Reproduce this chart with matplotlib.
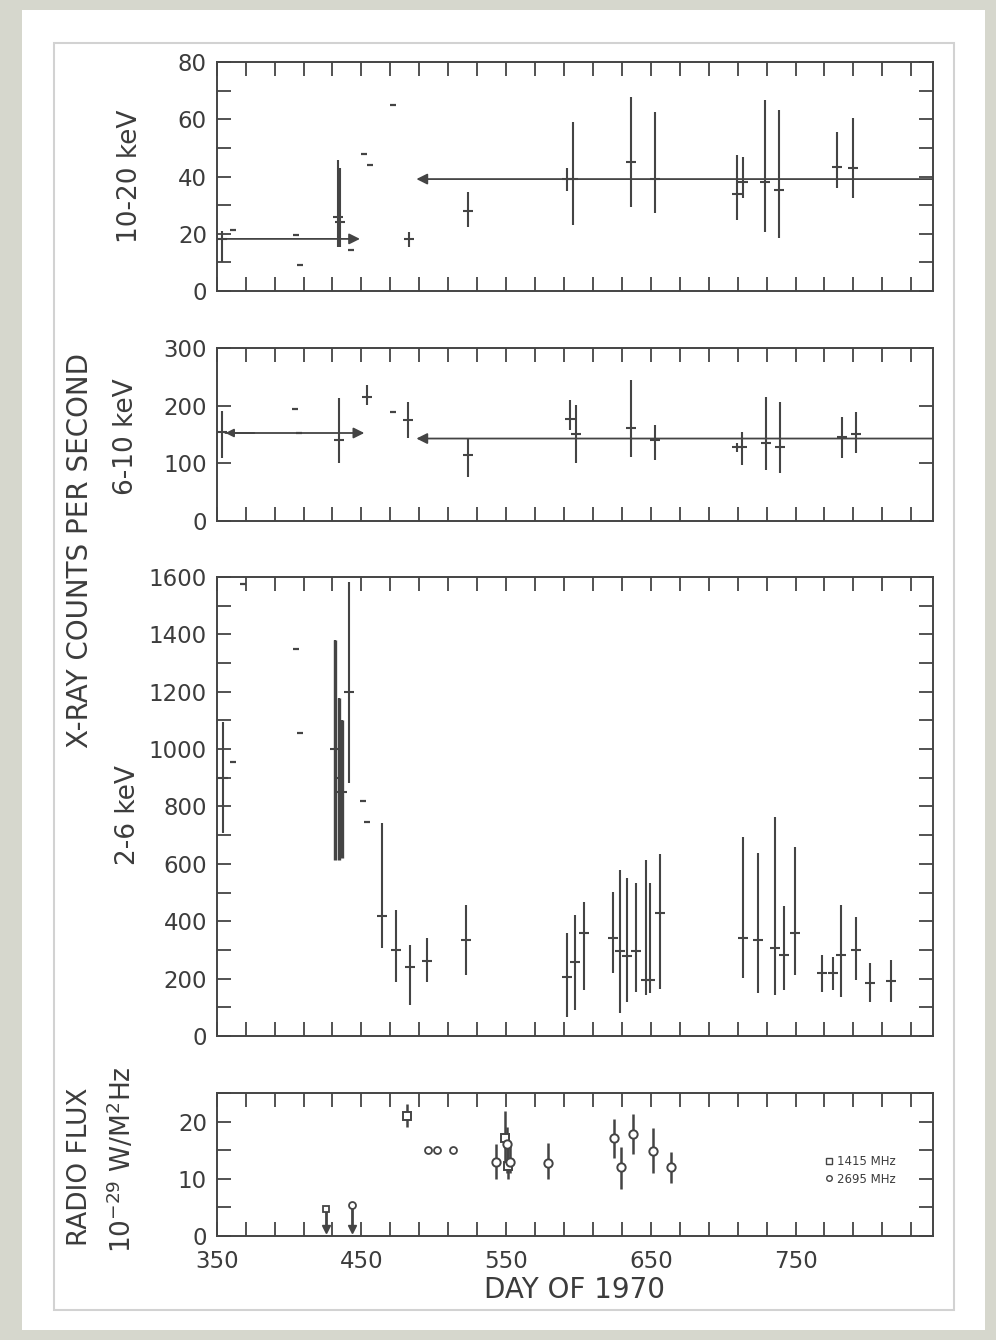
import matplotlib
matplotlib.use('Agg')
import matplotlib.pyplot as plt
from matplotlib.patches import Rectangle
import numpy as np

# ---------------- DATA ----------------
# Panel 1: 10-20 keV
p1_days = [354, 433.5, 435.5, 482.6, 524, 592, 596.4, 636.4, 653, 709.5, 713.7, 728.8, 738.5, 778.5, 789.5]
p1_low = [10, 15.4, 15.5, 15.4, 22.4, 35, 23, 29.3, 27.2, 24.8, 32.5, 20.6, 18.5, 36, 32.5]
p1_high = [21, 45.8, 43, 20.6, 34.6, 43, 59, 67.8, 62.5, 47.5, 46.8, 66.7, 63.2, 55.5, 60.4]
p1_mid = [18, 26, 24, 18, 28, 39, 39, 45, 39, 34, 38, 38, 35.3, 43.3, 43]
p1_dot_days = [361, 405, 407.5, 471.7, 451.7, 455.7, 443]
p1_dot_vals = [21.3, 19.6, 9.1, 65, 47.8, 44, 14.3]
p1_mean_start = [354, 845]
p1_mean_end = [449, 488]
p1_mean_val = [18.2, 39.1]

# Panel 2: 6-10 keV
p2_days = [354, 434.5, 454, 482, 524, 594, 598.5, 636.4, 653, 709.5, 713, 729.5, 739, 782, 791.7]
p2_low = [110, 100, 201, 144, 76, 158, 100, 111, 106, 120, 97, 88, 83, 109, 118]
p2_high = [190, 213, 236, 206, 144, 210, 201, 244, 166, 135, 154, 215, 206, 180, 189]
p2_mid = [155, 140, 215, 175, 114, 177, 150, 161, 140, 128, 128, 135, 128, 145, 150]
p2_dot_days = [404, 407, 472]
p2_dot_vals = [194, 153, 189]
p2_mean_start = [356, 845]
p2_mean_end = [452, 488]
p2_mean_val = [152.6, 143]

# Panel 3: 2-6 keV
p3_days = [354.5, 432, 434.5, 436.5, 441.4, 464, 473.7, 483.3, 495.6, 522.6,
           592.3, 597.8, 604, 624, 629, 633.7, 640, 646.8, 649.5, 656.4,
           713.8, 724, 735.8, 742, 749.6, 768, 775.8, 781.4, 791.7, 801.3, 815.7]
p3_low = [708, 613, 613, 620, 882, 307, 188, 108, 188, 212,
          66, 91, 160, 220, 80, 118, 153, 143, 150, 164,
          202, 150, 143, 160, 213, 153, 160, 136, 195, 118, 118]
p3_high = [1094, 1380, 1178, 1100, 1582, 742, 439, 317, 342, 456,
           359, 422, 467, 502, 579, 551, 533, 613, 533, 634,
           694, 638, 763, 453, 659, 282, 275, 457, 415, 254, 265]
p3_mid = [900, 1000, 900, 850, 1200, 418, 300, 240, 260, 335,
          206, 258, 359, 342, 296, 279, 296, 195, 195, 428,
          342, 335, 307, 282, 359, 218, 218, 282, 300, 186, 190]
p3_dot_days = [361, 404.7, 407.5, 451, 453.6, 368]
p3_dot_vals = [955, 1349, 1056, 819, 746, 1575]

# Panel 4: radio flux
r_days = [481.3, 543, 549, 550.5, 551.5, 553, 578.6, 624.8, 629.6, 637.9, 651.7, 664]
r_vals = [21, 12.9, 17.2, 16, 12.2, 12.9, 12.7, 17.2, 12, 17.9, 14.8, 12]
r_low = [19, 10, 12, 11, 10, 11, 10, 13.6, 8.3, 14.4, 11, 9.2]
r_high = [23, 16, 21.9, 19, 18, 16, 16.3, 20.5, 15.5, 21.4, 18.8, 14.6]
r_marker = ['s', 'o', 's', 'o', 's', 'o', 'o', 'o', 'o', 'o', 'o', 'o']
r_open_days = [495.8, 502, 513]
r_open_vals = [15, 15, 15]
r_lim_days = [425.5, 443.4]
r_lim_vals = [4.8, 5.5]
r_lim_marker = ['s', 'o']

x_labels = [350, 450, 550, 650, 750]
x_minor = list(range(370, 845, 20))

C = '#444444'
TXT = '#3c3c3c'

fig = plt.figure(figsize=(9.96, 13.4), dpi=100)
fig.patch.set_facecolor('#d6d7cd')
fig.add_artist(Rectangle((22/996, 1-1330/1340), 963/996, 1320/1340, transform=fig.transFigure,
                         facecolor='white', edgecolor='none', zorder=0))
fig.add_artist(Rectangle((54/996, 1-1310/1340), 900/996, 1267/1340, transform=fig.transFigure,
                         facecolor='none', edgecolor='#d2d2d2', lw=1.5, zorder=0))

L = 216.7/996
W = (933-216.7)/996
def pos(top, bot):
    return [L, 1-bot/1340, W, (bot-top)/1340]

ax1 = fig.add_axes(pos(62, 291))
ax2 = fig.add_axes(pos(348, 521))
ax3 = fig.add_axes(pos(577, 1036))
ax4 = fig.add_axes(pos(1093, 1236))

def style(ax, ymaj, ymin, ylim, show_x=False):
    ax.set_xlim(350, 845)
    ax.set_ylim(*ylim)
    ax.set_xticks(x_labels)
    ax.set_xticks(x_minor, minor=True)
    ax.set_yticks(ymaj)
    ax.set_yticks(ymin, minor=True)
    ax.tick_params(which='both', direction='in', top=True, right=True, length=10, width=1.3,
                   color='#444444', labelsize=16.5, labelcolor=TXT)
    ax.tick_params(axis='y', pad=7)
    ax.tick_params(axis='x', pad=10)
    if not show_x:
        ax.set_xticklabels([])
    for s in ax.spines.values():
        s.set_color('#444444')
        s.set_linewidth(1.4)
    ax.set_facecolor('none')

style(ax1, [0, 20, 40, 60, 80], list(range(10, 80, 20)), (0, 80))
style(ax2, [0, 100, 200, 300], [], (0, 300))
style(ax3, list(range(0, 1601, 200)), list(range(100, 1600, 200)), (0, 1600))
style(ax4, [0, 10, 20], [5, 15, 25], (0, 25), show_x=True)

def bars(ax, d, lo, hi, mid, ms=7):
    ax.vlines(d, lo, hi, color=C, lw=1.5)
    ax.plot(d, mid, ls='none', marker='_', ms=ms, mew=1.5, color=C)

def means(ax, st, en, val):
    for s, e, v in zip(st, en, val):
        ax.annotate('', xy=(e, v), xytext=(s, v),
                    arrowprops=dict(arrowstyle='-|>', color=C, lw=1.3, mutation_scale=16,
                                    shrinkA=0, shrinkB=0))

# Panel 1
bars(ax1, p1_days, p1_low, p1_high, p1_mid)
ax1.plot(p1_dot_days, p1_dot_vals, ls='none', marker='_', ms=4, mew=1.6, color=C)
means(ax1, p1_mean_start, p1_mean_end, p1_mean_val)

# Panel 2
bars(ax2, p2_days, p2_low, p2_high, p2_mid)
ax2.plot(p2_dot_days, p2_dot_vals, ls='none', marker='_', ms=4, mew=1.6, color=C)
means(ax2, p2_mean_start, p2_mean_end, p2_mean_val)
ax2.annotate('', xy=(p2_mean_start[0], p2_mean_val[0]), xytext=(p2_mean_start[0]+20, p2_mean_val[0]),
             arrowprops=dict(arrowstyle='-|>', color=C, lw=1.3, mutation_scale=12, shrinkA=0, shrinkB=0))

# Panel 3
bars(ax3, p3_days, p3_low, p3_high, p3_mid)
ax3.vlines(p3_days[1:4], p3_low[1:4], p3_high[1:4], color=C, lw=2.4)
ax3.plot(p3_dot_days, p3_dot_vals, ls='none', marker='_', ms=4, mew=1.6, color=C)

# Panel 4
ax4.vlines(r_days, r_low, r_high, color=C, lw=1.8)
for d, v, m in zip(r_days, r_vals, r_marker):
    ax4.plot([d], [v], ls='none', marker=m, ms=6, mfc='white', mec=C, mew=1.4)
ax4.plot(r_open_days, r_open_vals, ls='none', marker='o', ms=5, mfc='white', mec=C, mew=1.3)
for d, v, m in zip(r_lim_days, r_lim_vals, r_lim_marker):
    ax4.vlines(d, 1.0, v, color=C, lw=2)
    ax4.plot([d], [1.2], ls='none', marker='v', ms=6, color=C)
    ax4.plot([d], [v], ls='none', marker=m, ms=5, mfc='white', mec=C, mew=1.3)
h1, = ax4.plot([], [], ls='none', marker='s', ms=4, mfc='white', mec=C, mew=1, label='1415 MHz')
h2, = ax4.plot([], [], ls='none', marker='o', ms=4, mfc='white', mec=C, mew=1, label='2695 MHz')
ax4.legend(handles=[h1, h2], loc='center left', bbox_to_anchor=(0.835, 0.46), frameon=False,
           fontsize=8.5, handlelength=0.6, handletextpad=0.4, labelspacing=0.4, labelcolor=TXT)
ax4.set_xlabel('DAY OF 1970', fontsize=20, color=TXT, labelpad=2)

# Labels
fig.text(130/996, 1-176/1340, '10-20 keV', rotation=90, ha='center', va='center', fontsize=19, color=TXT)
fig.text(126/996, 1-437/1340, '6-10 keV', rotation=90, ha='center', va='center', fontsize=19, color=TXT)
fig.text(80/996, 1-550/1340, 'X-RAY COUNTS PER SECOND', rotation=90, ha='center', va='center', fontsize=20, color=TXT)
fig.text(128/996, 1-815/1340, '2-6 keV', rotation=90, ha='center', va='center', fontsize=19, color=TXT)
fig.text(80/996, 1-1167/1340, 'RADIO FLUX', rotation=90, ha='center', va='center', fontsize=19, color=TXT)
fig.text(122/996, 1-1160/1340, r'$10^{-29}$ W/M$^2$Hz', rotation=90, ha='center', va='center', fontsize=19, color=TXT)

fig.savefig('out.png', dpi=100, facecolor=fig.get_facecolor())
